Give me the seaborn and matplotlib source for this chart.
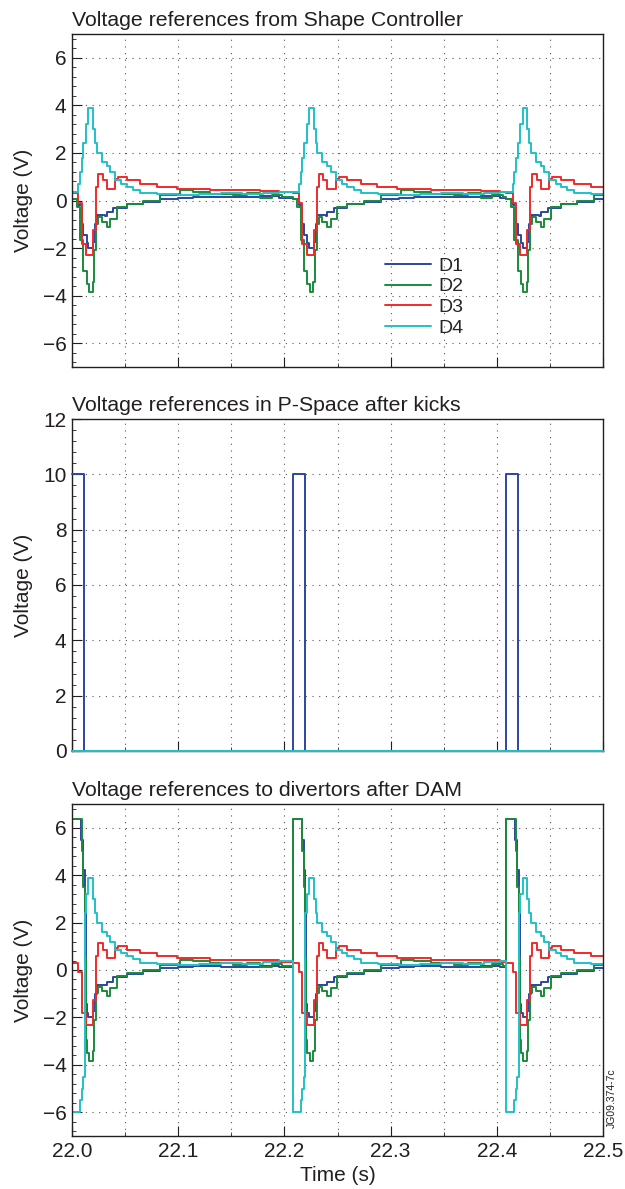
import numpy as np
import pandas as pd
import matplotlib
matplotlib.use("Agg")
import matplotlib.pyplot as plt
from matplotlib.ticker import MultipleLocator, AutoMinorLocator, FormatStrFormatter
import seaborn as sns

signals = ["D1", "D2", "D3", "D4"]
colors = ["#2c45a0", "#1b8a3c", "#ee2b2b", "#1fc2c6"]

# kicks (P-space pulses)
kick_start = [22.0, 22.2078, 22.4088]
kick_end = [22.0113, 22.2194, 22.4200]
kick_level = 10.0
t_end = 22.5

# shape controller references, time relative to kick start (s), step values (V)
d1_rel_t = [0.0, 0.006, 0.0091, 0.0107, 0.0138, 0.0154, 0.0201, 0.0217, 0.0232, 0.031,
            0.0326, 0.039, 0.0515, 0.067, 0.083, 0.100, 0.114, 0.140, 0.177, 0.195]
d1_rel_v = [0.08, -0.2, -0.97, -1.45, -1.8, -2.0, -1.75, -1.0, -0.62, -0.65,
            -0.5, -0.3, -0.16, -0.06, 0.08, 0.12, 0.15, 0.14, 0.17, 0.12]

d2_rel_t = [0.0, 0.0044, 0.0075, 0.0107, 0.0138, 0.0163, 0.0195, 0.0207, 0.0226, 0.0248,
            0.028, 0.0326, 0.0358, 0.042, 0.0515, 0.0671, 0.083, 0.1017, 0.1142, 0.130,
            0.152, 0.165, 0.177, 0.188, 0.198]
d2_rel_v = [0.05, -0.27, -1.68, -2.95, -3.5, -3.85, -3.43, -2.1, -0.97, -0.7,
            -0.9, -1.1, -0.77, -0.27, -0.13, 0.0, 0.22, 0.43, 0.36, 0.29,
            0.22, 0.3, 0.12, 0.25, 0.15]

d3_rel_t = [0.0, 0.006, 0.0091, 0.0132, 0.0201, 0.0226, 0.0248, 0.0289, 0.0326, 0.0405,
            0.0436, 0.0515, 0.064, 0.0797, 0.0986, 0.13, 0.177, 0.195]
d3_rel_v = [0.3, -0.1, -1.81, -2.3, -1.25, 0.57, 1.13, 0.85, 0.5, 0.92,
            1.0, 0.85, 0.71, 0.57, 0.5, 0.43, 0.41, 0.35]

d4_rel_t = [0.0, 0.006, 0.0075, 0.0091, 0.0107, 0.0132, 0.0154, 0.0201, 0.0217, 0.0232,
            0.028, 0.0326, 0.0358, 0.0405, 0.0465, 0.0515, 0.0577, 0.064, 0.08, 0.1,
            0.12, 0.14, 0.16, 0.18, 0.195]
d4_rel_v = [0.36, 0.7, 1.2, 1.8, 2.4, 3.2, 3.9, 3.0, 2.4, 2.0,
            1.6, 1.45, 1.2, 0.85, 0.7, 0.57, 0.45, 0.3, 0.27, 0.22,
            0.27, 0.3, 0.27, 0.33, 0.36]

# DAM output during / just after each kick (relative time, V)
d1_dam_t = [0.0, 0.0085, 0.0105, 0.012]
d1_dam_v = [6.35, 5.5, 4.2, 2.5]
d1_dam_cut = 0.013
d2_dam_t = [0.0, 0.009, 0.0105, 0.012]
d2_dam_v = [6.35, 5.0, 3.5, 0.5]
d2_dam_cut = 0.013
d4_dam_t = [0.0, 0.0075, 0.009, 0.0105]
d4_dam_v = [-6.0, -5.5, -5.0, -4.5]
d4_dam_cut = 0.012


def tile(rel_t, rel_v):
    ts, vs = [], []
    for i, k in enumerate(kick_start):
        nxt = kick_start[i + 1] if i + 1 < len(kick_start) else t_end
        for t, v in zip(rel_t, rel_v):
            if k + t < nxt:
                ts.append(k + t)
                vs.append(v)
    ts.append(t_end)
    vs.append(vs[-1])
    return ts, vs


def splice(rel_t, rel_v, dam_t, dam_v, cut):
    prev = [v for t, v in zip(rel_t, rel_v) if t < cut][-1]
    keep = [(t, v) for t, v in zip(rel_t, rel_v) if t >= cut]
    return (list(dam_t) + [cut] + [t for t, _ in keep],
            list(dam_v) + [prev] + [v for _, v in keep])


def frame(series):
    parts = []
    for name, (ts, vs) in zip(signals, series):
        parts.append(pd.DataFrame({"time": ts, "voltage": vs, "signal": name}))
    return pd.concat(parts, ignore_index=True)


top_df = frame([tile(d1_rel_t, d1_rel_v), tile(d2_rel_t, d2_rel_v),
                tile(d3_rel_t, d3_rel_v), tile(d4_rel_t, d4_rel_v)])

p_t = [22.0]
p_v = [kick_level]
for s, e in zip(kick_start, kick_end):
    if s > 22.0:
        p_t.append(s)
        p_v.append(kick_level)
    p_t.append(e)
    p_v.append(0.0)
p_t.append(t_end)
p_v.append(0.0)
zero_t = [22.0, t_end]
zero_v = [0.0, 0.0]
mid_df = frame([(p_t, p_v), (zero_t, zero_v), (zero_t, zero_v), (zero_t, zero_v)])

bot_df = frame([tile(*splice(d1_rel_t, d1_rel_v, d1_dam_t, d1_dam_v, d1_dam_cut)),
                tile(*splice(d2_rel_t, d2_rel_v, d2_dam_t, d2_dam_v, d2_dam_cut)),
                tile(d3_rel_t, d3_rel_v),
                tile(*splice(d4_rel_t, d4_rel_v, d4_dam_t, d4_dam_v, d4_dam_cut))])

sns.set_style("ticks")
plt.rcParams["font.family"] = ["Liberation Sans", "DejaVu Sans"]
plt.rcParams["axes.unicode_minus"] = True
txt = "#231f20"

fig = plt.figure(figsize=(6.25, 11.89), dpi=100)
ax1 = fig.add_axes([0.1152, 0.6913, 0.8496, 0.2801])
ax2 = fig.add_axes([0.1152, 0.3684, 0.8496, 0.2792])
ax3 = fig.add_axes([0.1152, 0.0446, 0.8496, 0.2792])

panels = [
    (ax1, top_df, (-7, 7), range(-6, 7, 2), "Voltage references from Shape Controller"),
    (ax2, mid_df, (0, 12), range(0, 13, 2), "Voltage references in P-Space after kicks"),
    (ax3, bot_df, (-7, 7), range(-6, 7, 2), "Voltage references to divertors after DAM"),
]

grid_ls = (0, (1, 5))
for ax, df, ylim, yt, title in panels:
    sns.lineplot(data=df, x="time", y="voltage", hue="signal", hue_order=signals,
                 palette=colors, estimator=None, sort=False, drawstyle="steps-post",
                 lw=1.4, legend=False, ax=ax)
    ax.set_xlim(22.0, 22.5)
    ax.set_ylim(*ylim)
    ax.set_yticks(list(yt))
    ax.xaxis.set_major_locator(MultipleLocator(0.1))
    ax.xaxis.set_minor_locator(MultipleLocator(0.05))
    ax.xaxis.set_major_formatter(FormatStrFormatter("%.1f"))
    ax.yaxis.set_minor_locator(AutoMinorLocator(5))
    ax.set_axisbelow(True)
    ax.grid(which="major", axis="both", ls=grid_ls, color="#555555", lw=0.8)
    ax.grid(which="minor", axis="x", ls=grid_ls, color="#555555", lw=0.8)
    ax.tick_params(which="major", direction="in", length=7, width=0.8, colors=txt,
                   labelsize=15, pad=4)
    ax.tick_params(which="minor", direction="in", length=3, width=0.6, color=txt)
    for sp in ax.spines.values():
        sp.set_color(txt)
        sp.set_linewidth(1.0)
    ax.set_title(title, loc="left", fontsize=15.3, color=txt, pad=6)
    ax.set_ylabel("Voltage (V)", fontsize=15, color=txt)
    ax.yaxis.set_label_coords(-0.073, 0.5)
    ax.set_xlabel("")

# P-space traces sit on the bottom spine: draw them over it
for ln in ax2.get_lines():
    ln.set_clip_on(False)
    ln.set_zorder(3)

ax1.tick_params(labelbottom=False)
ax2.tick_params(labelbottom=False)
ax3.set_xlabel("Time (s)", fontsize=15, color=txt, labelpad=4)

ax1.legend(ax1.get_lines()[:4], signals, loc="upper left", bbox_to_anchor=(0.59, 0.33),
           frameon=False, fontsize=14, handlelength=2.35, handletextpad=0.4,
           labelspacing=0.16, borderpad=0, borderaxespad=0)

fig.text(0.9787, 0.051, "JG09.374-7c", rotation=90, fontsize=7.5, color=txt,
         ha="center", va="bottom")

fig.savefig("out.png", dpi=100)
